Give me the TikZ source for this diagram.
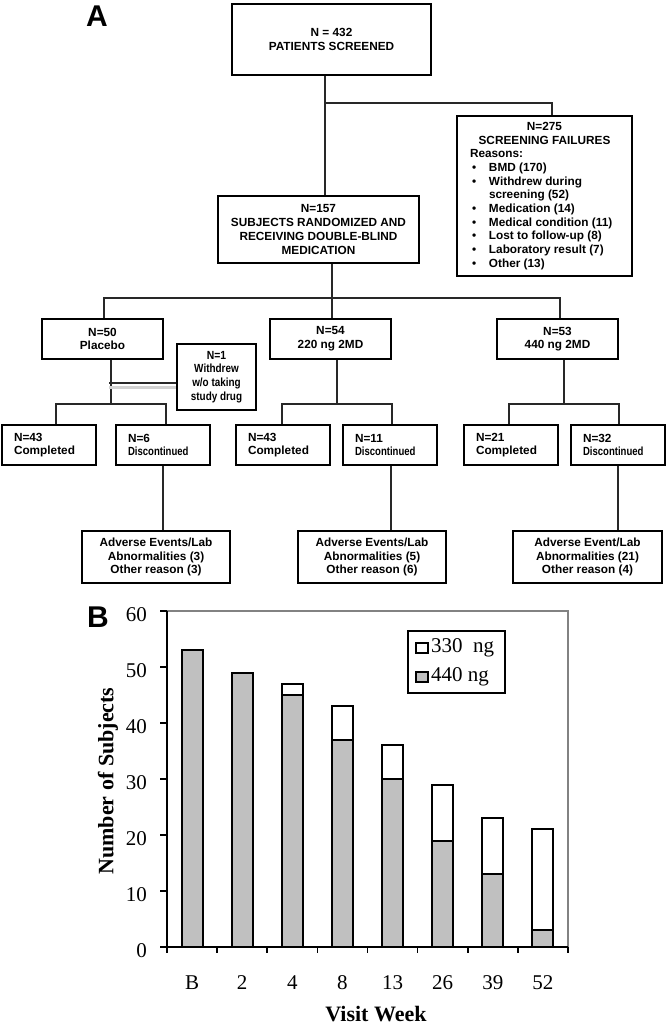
\documentclass[tikz,border=0pt]{standalone}
\usepackage{fontspec}
\usepackage{graphicx}
\setmainfont{Liberation Serif}
\newfontfamily\hvfam{Liberation Sans}
\definecolor{barg}{RGB}{192,192,192}
\definecolor{frameg}{RGB}{130,130,130}
\definecolor{lineg}{RGB}{40,40,40}
\newcommand{\fcfont}{\hvfam\bfseries\fontsize{11.8pt}{13.7pt}\selectfont}
\newcommand{\cnd}[2][0.84]{\scalebox{#1}[1]{#2}}
\newcommand{\bul}{\makebox[19pt][l]{\hspace{2pt}\textbullet}}
\tikzset{
  fbox/.style={draw, line width=1.6pt, inner sep=0pt, font=\fcfont, align=center},
  fplain/.style={draw, line width=1.6pt, inner sep=0pt, font=\fcfont},
  lbox/.style={draw, line width=1.6pt, font=\fcfont, text width=70pt, inner xsep=12pt, inner ysep=0pt, minimum height=40pt, align=left},
  conn/.style={line width=1.4pt, lineg},
  barline/.style={line width=2pt},
  tick/.style={line width=1.6pt},
  numfont/.style={font=\fontsize{21pt}{21pt}\selectfont, inner sep=0pt},
  titlefont/.style={font=\bfseries\fontsize{22pt}{22pt}\selectfont, inner sep=0pt},
  panel/.style={font=\hvfam\bfseries\fontsize{30pt}{30pt}\selectfont, inner sep=0pt}
}
\begin{document}
\begin{tikzpicture}[x=1pt,y=-1pt]
\useasboundingbox (0,0) rectangle (667,1026);
\fill[white] (0,0) rectangle (667,1026);

% ---------- Panel A ----------
\node[panel] (labA) at (97,16) {A};

\node[fbox, minimum width=199pt, minimum height=71pt] (top) at (331.5,39.5) {N = 432\\PATIENTS SCREENED};

\node[fplain, minimum width=175pt, minimum height=160pt] (fail) at (544.5,196) {\parbox{149pt}{\centering N=275\\SCREENING FAILURES\par\raggedright
Reasons:\\
\bul BMD (170)\\
\bul Withdrew during\\
\hspace*{19pt}screening (52)\\
\bul Medication (14)\\
\bul Medical condition (11)\\
\bul Lost to follow-up (8)\\
\bul Laboratory result (7)\\
\bul Other (13)}};

\node[fbox, minimum width=201pt, minimum height=67pt] (rand) at (318.5,229.5) {N=157\\SUBJECTS RANDOMIZED AND\\RECEIVING DOUBLE-BLIND\\MEDICATION};

\node[fbox, minimum width=121pt, minimum height=40pt] (gplac) at (102.5,339) {N=50\\Placebo};
\node[fbox, minimum width=121pt, minimum height=40pt] (g220) at (330.5,339) {N=54\\220 ng 2MD};
\node[fbox, minimum width=121pt, minimum height=40pt] (g440) at (557.5,339) {N=53\\440 ng 2MD};

\node[fbox, minimum width=79pt, minimum height=66pt] (wd) at (216.5,377) {\cnd[0.88]{N=1}\\\cnd{Withdrew}\\\cnd{w/o taking}\\\cnd{study drug}};

\node[lbox] (pcomp) at (49,445) {N=43\\Completed};
\node[lbox] (pdisc) at (163,445) {N=6\\\cnd[0.81]{Discontinued}};
\node[lbox] (c220) at (283,445) {N=43\\Completed};
\node[lbox] (d220) at (390,445) {N=11\\\cnd[0.81]{Discontinued}};
\node[lbox] (c440) at (511,445) {N=21\\Completed};
\node[lbox] (d440) at (618,445) {N=32\\\cnd[0.81]{Discontinued}};

\node[fbox, minimum width=148pt, minimum height=52pt] (pae) at (156,557) {Adverse Events/Lab\\Abnormalities (3)\\Other reason (3)};
\node[fbox, minimum width=148pt, minimum height=52pt] (ae220) at (372,557) {Adverse Events/Lab\\Abnormalities (5)\\Other reason (6)};
\node[fbox, minimum width=149pt, minimum height=52pt] (ae440) at (587.5,557) {Adverse Event/Lab\\Abnormalities (21)\\Other reason (4)};

% connectors
\coordinate (j1) at (325,103);
\draw[conn] (j1 |- top.south) -- (j1 |- rand.north);
\draw[conn] (j1) -| ([xshift=7.5pt]fail.north);

\coordinate (j2) at (332,298);
\draw[conn] (j2 |- rand.south) -- (j2 |- g220.north);
\draw[conn] ([xshift=1.5pt]gplac.north) |- (j2) -| ([xshift=2.5pt]g440.north);

\coordinate (j3) at (111,404);
\draw[conn] (j3 |- gplac.south) -- (j3);
\draw[conn] ([xshift=7pt]pcomp.north) |- (j3) -| ([xshift=3pt]pdisc.north);
\coordinate (j4) at (109,383);
\draw[line width=3pt, gray!35] ([yshift=-4pt]j4) -- ([yshift=-4pt]j4 -| wd.west);
\draw[conn] (j4) -- (j4 -| wd.west);

\coordinate (j5) at (337,404);
\draw[conn] (j5 |- g220.south) -- (j5);
\draw[conn] ([xshift=-1pt]c220.north) |- (j5) -| ([xshift=2pt]d220.north);

\coordinate (j6) at (564,404);
\draw[conn] (j6 |- g440.south) -- (j6);
\draw[conn] ([xshift=-2pt]c440.north) |- (j6) -| ([xshift=1pt]d440.north);

\draw[conn] (pdisc.south) -- (pdisc.south |- pae.north);
\draw[conn] ([xshift=1pt]d220.south) -- ([xshift=1pt]d220.south |- ae220.north);
\draw[conn] (d440.south) -- (d440.south |- ae440.north);

% ---------- Panel B ----------
\node[panel] (labB) at (98,617) {B};

% frame (gray)
\draw[frameg, line width=1.2pt] (167,611) -- (568,611) -- (568,947);

% bars
\foreach \lab/\g/\t [count=\i from 0] in {B/53/53, 2/49/49, 4/45/47, 8/37/43, 13/30/36, 26/19/29, 39/13/23, 52/3/21} {
  \pgfmathsetmacro\xc{167+50.125*(\i+0.5)}
  \draw[barline, fill=barg] ({\xc-10.5},947) rectangle ({\xc+10.5},{947-\g*5.6});
  \ifnum\t>\g
    \draw[barline, fill=white] ({\xc-10.5},{947-\g*5.6}) rectangle ({\xc+10.5},{947-\t*5.6});
  \fi
  \node[numfont] (xl\i) at (\xc,983) {\lab};
}

% axes
\draw[tick] (167,611) -- (167,947) -- (568,947);
\foreach \v in {0,10,...,60} {
  \draw[tick] (160,{947-\v*5.6}) -- (167,{947-\v*5.6});
  \node[numfont, anchor=east] (yl\v) at (147,{950.5-\v*5.6}) {\v};
}
\foreach \k in {0,...,8} {
  \draw[tick] ({167+50.125*\k},947) -- ({167+50.125*\k},953);
}

% legend
\draw[line width=2pt] (408,631) rectangle (505,693);
\draw[line width=1.5pt, fill=white] (416,643) rectangle (428,653);
\draw[line width=1.5pt, fill=barg] (416,672) rectangle (428,682);
\node[numfont, anchor=west] (leg1) at (431,648) {330\ \ ng};
\node[numfont, anchor=west] (leg2) at (431,677) {440 ng};

% titles
\node[titlefont] (xtitle) at (376,1014) {Visit Week};
\node[titlefont, rotate=90] (ytitle) at (108,781) {Number of Subjects};
\end{tikzpicture}
\end{document}
